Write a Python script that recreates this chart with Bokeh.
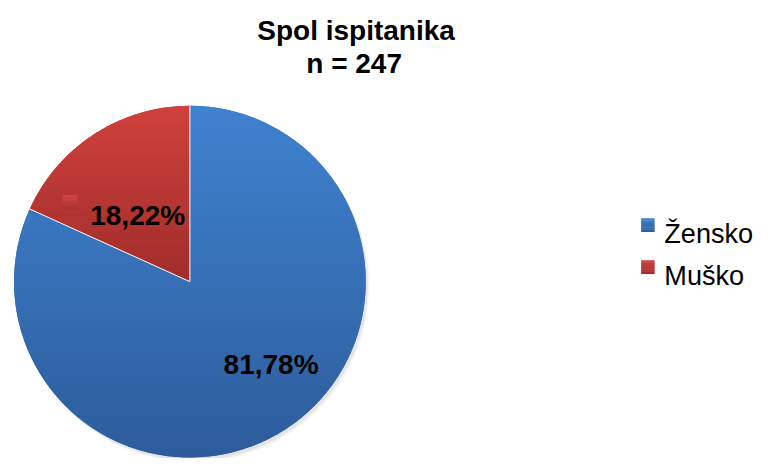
import numpy as np
from bokeh.plotting import figure
from bokeh.models import Range1d, Label, ColumnDataSource
from bokeh.embed import file_html
from bokeh.resources import INLINE
from bokeh.core.properties import value

# ---------------- data ----------------
categories = ["Žensko", "Muško"]
values = [81.78, 18.22]
pct_labels = ["81,78%", "18,22%"]
title_lines = ["Spol ispitanika", "n = 247"]

# ---------------- style ----------------
top_colors = ["#3f82d0", "#d0413c"]
bottom_colors = ["#2d5c9b", "#a02d2a"]
mid_colors = ["#3670b8", "#bb3834"]
FONT = "Liberation Sans"

W, H = 766, 458
REF_W, REF_H = 782, 474
S = H / REF_H  # uniform px-per-unit scale, data units = reference pixels


def fs(px):
    return "%.1fpx" % (px * S)


p = figure(width=W, height=H, x_range=Range1d(0, W / S), y_range=Range1d(-REF_H, 0),
           output_backend="svg", toolbar_location=None, min_border=0,
           x_axis_type=None, y_axis_type=None)
p.grid.visible = False
p.outline_line_color = None
p.background_fill_color = "white"
p.border_fill_color = "white"

# pie geometry (reference px; y data = -y)
cx, cy, R = 196.0, -291.0, 182.0

vals = np.array(values, dtype=float)
total = vals.sum()
cum = np.cumsum(vals)
start = np.pi / 2 - 2 * np.pi * (cum - vals) / total
end = np.pi / 2 - 2 * np.pi * cum / total

# soft shadow
for k, a in enumerate([0.10, 0.07, 0.05]):
    p.circle(x=cx + 2 + k, y=cy - 3 - k, radius=R, fill_color="#808080",
             fill_alpha=a, line_color=None)

src = ColumnDataSource(dict(cat=categories, val=values, start=start, end=end, color=mid_colors))
p.wedge(x=cx, y=cy, radius=R, start_angle="start", end_angle="end", direction="clock",
        fill_color="color", line_color=None, source=src)


def hex2rgb(h):
    h = h.lstrip("#")
    return np.array([int(h[i:i + 2], 16) for i in (0, 2, 4)], dtype=float)


def rgb2hex(c):
    return "#%02x%02x%02x" % tuple(int(round(v)) for v in c)


def sector(a0, a1, n=240):
    t = np.linspace(a0, a1, n)
    xs = np.concatenate([[cx], cx + R * np.cos(t)])
    ys = np.concatenate([[cy], cy + R * np.sin(t)])
    return list(zip(xs, ys))


def clip(poly, yc, keep_above):
    out = []
    m = len(poly)
    for i in range(m):
        P = poly[i]
        Q = poly[(i + 1) % m]
        inP = P[1] >= yc if keep_above else P[1] <= yc
        inQ = Q[1] >= yc if keep_above else Q[1] <= yc
        if inP:
            out.append(P)
        if inP != inQ:
            t = (yc - P[1]) / (Q[1] - P[1])
            out.append((P[0] + t * (Q[0] - P[0]), yc))
    return out


# vertical gradient per slice
NS = 60
for i in range(len(values)):
    poly = sector(start[i], end[i])
    ys_all = [q[1] for q in poly]
    ymax, ymin = max(ys_all), min(ys_all)
    h = (ymax - ymin) / NS
    c0, c1 = hex2rgb(top_colors[i]), hex2rgb(bottom_colors[i])
    pxs, pys, pcs = [], [], []
    for k in range(NS):
        y_hi = ymax - k * h
        y_lo = y_hi - h - 0.7
        piece = clip(clip(poly, y_hi, False), y_lo, True)
        if len(piece) < 3:
            continue
        f = (k + 0.5) / NS
        pxs.append([q[0] for q in piece])
        pys.append([q[1] for q in piece])
        pcs.append(rgb2hex(c0 + (c1 - c0) * f))
    p.patches(xs=pxs, ys=pys, fill_color=pcs, line_color=None)

# thin white separators between slices
p.segment(x0=cx, y0=cy, x1=cx + R * np.cos(start), y1=cy + R * np.sin(start),
          line_color="white", line_width=1)

# data labels
label_xy = [(280, 377), (142, 222)]
for i, txt in enumerate(pct_labels):
    p.add_layout(Label(x=label_xy[i][0], y=-label_xy[i][1], text=txt, text_align="center",
                       text_baseline="alphabetic", text_font=FONT, text_font_size=fs(29),
                       text_font_style="bold", text_color="black"))


def grad_square(x, y, size, ctop, cbot, n=6):
    c0, c1 = hex2rgb(ctop), hex2rgb(cbot)
    hh = size / n
    ys = [y + size / 2 - hh * (k + 0.5) for k in range(n)]
    cols = [rgb2hex(c0 + (c1 - c0) * (k + 0.5) / n) for k in range(n)]
    p.rect(x=[x] * n, y=ys, width=size, height=hh + 0.3, fill_color=cols, line_color=None)


# legend key inside the small-slice label
grad_square(72, -209, 15, "#d4443f", "#a83230")

# title
title_xy = [(368, 31), (366, 65)]
for (tx, ty), line in zip(title_xy, title_lines):
    p.add_layout(Label(x=tx, y=-ty, text=line, text_align="center", text_baseline="alphabetic",
                       text_font=FONT, text_font_size=fs(29), text_font_style="bold",
                       text_color="black"))

# legend
leg_x, leg_y0, leg_pitch = 670, 232.5, 43.5
for i in range(len(categories)):
    grad_square(leg_x, -(leg_y0 + i * leg_pitch), 14, top_colors[i], bottom_colors[i])
leg_src = ColumnDataSource(dict(
    tx=[leg_x + 17] * len(categories),
    ty=[-(leg_y0 + 9 + i * leg_pitch) for i in range(len(categories))],
    label=categories))
p.text(x="tx", y="ty", text="label", text_font=value(FONT), text_font_size=fs(28),
       text_baseline="alphabetic", text_align="left", text_color="black", source=leg_src)

open("out.html", "w").write(file_html(p, INLINE))
